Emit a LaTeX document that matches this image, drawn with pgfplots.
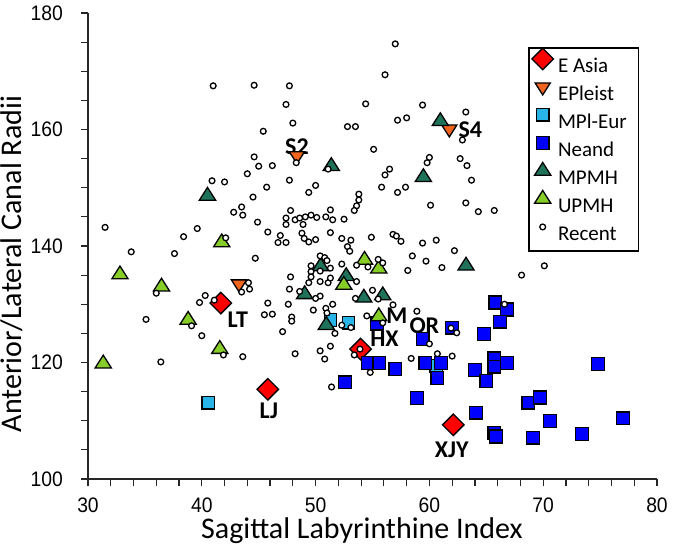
\documentclass[border=0pt]{standalone}
\usepackage{fontspec}
\setmainfont{Carlito}
\newfontfamily\tickfont[FakeStretch=0.92]{Liberation Sans}
\usepackage{pgfplots}
\pgfplotsset{compat=1.18}
\definecolor{easia}{RGB}{255,0,0}
\definecolor{epleist}{RGB}{240,100,30}
\definecolor{mpleur}{RGB}{40,180,230}
\definecolor{neand}{RGB}{0,0,255}
\definecolor{mpmh}{RGB}{30,115,90}
\definecolor{upmh}{RGB}{135,205,40}
\begin{document}
\begin{tikzpicture}
\useasboundingbox (-88bp,-67bp) rectangle (594bp,479bp);
\begin{axis}[
  at={(0,0)}, anchor=south west,
  scale only axis, width=569bp, height=466bp,
  xmin=30, xmax=80, ymin=100, ymax=180,
  axis lines=left,
  axis line style={-, line width=1.4bp, black!85},
  xtick={30,40,...,80}, ytick={100,120,...,180},
  minor x tick num=4, minor y tick num=3,
  tick align=outside, major tick length=7bp, minor tick length=7bp,
  every tick/.style={line width=1.2bp, black!85},
  /pgf/number format/assume math mode=true,
  ticklabel style={font=\tickfont\fontsize{21bp}{21bp}\selectfont, inner sep=0pt},
  xticklabel style={anchor=base, yshift=-26.5bp},
  yticklabel style={anchor=east, xshift=-18bp},
  xlabel={Sagittal Labyrinthine Index},
  ylabel={Anterior/Lateral Canal Radii},
  every axis x label/.style={at={(rel axis cs:0.4815,0)}, anchor=base, yshift=-59bp, font=\fontsize{30bp}{30bp}\selectfont},
  every axis y label/.style={at={(rel axis cs:0,0.461)}, xshift=-66bp, rotate=90, anchor=base, font=\fontsize{30bp}{30bp}\selectfont},
  clip=false,
  legend style={at={(rel axis cs:0.7733,0.927)}, anchor=north west, draw=black, line width=1.8bp, fill=white,
    font=\fontsize{21bp}{24bp}\selectfont, inner xsep=3.8bp, inner ysep=6bp, row sep=5bp, column sep=5.3bp,
    nodes={inner sep=0pt, text height=14bp, text depth=4bp}},
  legend cell align=left,
  legend image code/.code={\path[draw=none, fill=none] (-10bp,0bp) rectangle (10bp,14bp); \draw[#1, overlay] plot coordinates {(0bp,9bp)};},
]
% E Asia
\addplot[only marks, mark=square*, mark size=7.6bp, mark options={rotate=45, draw=black, fill=easia, line width=1.3bp}] coordinates {
(41.67,130.2) (45.8,115.4) (53.95,122.3) (62.1,109.3)
};
\addlegendentry{E Asia}
% EPleist
\addplot[only marks, mark=triangle*, mark size=8bp, mark options={rotate=180, xscale=1.1, draw=black, fill=epleist, line width=1.3bp}] coordinates {
(48.36,155.5) (61.75,160.1) (43.27,133.5)
};
\addlegendentry{EPleist}
% MPl-Eur
\addplot[only marks, mark=square*, mark size=6.2bp, mark options={draw=black, fill=mpleur, line width=1.3bp}] coordinates {
(40.55,113.1) (51.3,127.3) (52.9,126.8) (60.6,119.4)
};
\addlegendentry{MPl-Eur\hspace*{8bp}}
% Neand
\addplot[only marks, mark=square*, mark size=6.4bp, mark options={draw=black, fill=neand, line width=1.3bp}] coordinates {
(55.4,126.7) (52.6,116.6) (54.6,119.9) (55.6,119.9) (57.0,118.9) (59.65,119.9)
(61.0,119.9) (60.7,117.3) (58.9,113.9) (59.4,124.0) (62.0,126.0) (64.0,118.7)
(65.0,116.8) (65.7,120.7) (65.7,119.3) (66.8,119.9) (64.1,111.4) (65.7,107.9)
(65.85,107.3) (65.8,130.3) (66.8,129.1) (66.2,127.0) (64.8,124.9) (74.8,119.7)
(68.7,113.1) (69.7,114.0) (70.6,110.0) (69.1,107.1) (73.4,107.7) (77.0,110.4)
};
\addlegendentry{Neand}
% MPMH
\addplot[only marks, mark=triangle*, mark size=8.5bp, mark options={xscale=1.1, draw=black, fill=mpmh, line width=1.3bp}] coordinates {
(40.5,148.6) (51.38,153.7) (60.96,161.4) (59.47,151.8) (63.22,136.6) (50.44,136.5)
(52.69,134.8) (49.04,131.7) (54.24,131.1) (55.9,131.5) (50.94,126.4)
};
\addlegendentry{MPMH}
% UPMH
\addplot[only marks, mark=triangle*, mark size=8.5bp, mark options={xscale=1.1, draw=black, fill=upmh, line width=1.3bp}] coordinates {
(32.81,135.1) (36.46,133.0) (38.8,127.3) (41.58,122.3) (31.34,119.8) (41.75,140.6)
(54.3,137.6) (55.55,136.1) (52.48,133.3) (55.55,127.9)
};
\addlegendentry{UPMH}
% Recent
\addplot[only marks, mark=*, mark size=2.9bp, mark options={draw=black, fill=white, line width=1.3bp}] table {
x y
41.0 167.5
44.6 167.6
47.7 167.5
47.4 164.3
48.0 161.1
45.4 159.7
44.6 155.3
45.0 153.7
46.2 153.8
48.3 154.3
44.0 152.4
40.9 151.2
42.0 151.0
47.7 151.3
45.7 150.1
49.4 149.2
44.5 148.4
43.5 146.7
42.8 145.8
43.6 145.3
47.8 146.1
31.5 143.2
39.6 143.0
38.4 141.6
44.9 144.1
45.8 142.4
47.4 144.8
47.4 143.7
48.2 144.5
48.6 144.8
49.1 145.0
48.9 143.7
48.8 142.2
49.0 141.3
46.9 141.8
46.7 140.6
47.4 140.6
42.1 141.4
57.0 174.7
56.1 169.4
54.4 164.4
59.4 164.2
63.2 163.0
57.2 161.6
58.0 162.0
52.8 160.5
53.5 160.5
62.9 158.2
55.1 156.6
51.1 153.2
60.0 155.2
59.8 154.3
62.7 155.0
63.3 153.8
56.5 153.2
56.1 152.2
50.0 150.4
55.8 150.1
57.2 149.2
57.9 150.1
63.7 151.3
53.8 148.9
53.8 147.9
53.6 146.9
53.4 146.1
60.1 147.0
63.2 147.4
64.3 145.9
65.7 146.1
49.6 145.3
50.1 144.9
50.9 145.0
51.3 146.2
51.5 144.5
52.5 144.6
49.4 140.7
50.0 141.1
51.3 142.3
52.3 141.3
53.1 141.0
52.8 139.9
53.0 139.1
54.9 141.5
56.8 142.0
57.1 141.7
57.5 140.8
59.4 140.5
60.6 141.0
62.2 139.2
58.5 138.3
50.4 138.3
50.8 138.0
44.7 137.9
51.0 137.5
51.3 136.2
49.6 136.6
49.6 135.6
49.6 134.7
50.4 135.7
52.3 136.9
53.6 136.7
54.6 136.4
55.5 137.7
55.9 137.1
47.8 134.7
50.4 133.9
51.1 133.7
51.3 134.5
49.4 133.7
53.6 133.9
47.7 132.6
48.6 132.2
50.4 131.4
50.0 131.0
55.0 132.4
55.5 130.9
53.5 131.0
45.8 130.2
47.6 130.0
51.5 130.0
49.8 129.0
50.9 129.3
51.0 128.5
45.5 128.2
46.2 128.3
47.9 127.8
47.9 127.1
54.5 128.0
56.8 129.9
47.1 125.3
51.7 125.0
52.3 126.4
53.1 126.0
55.9 126.8
51.3 122.8
50.4 122.0
48.2 121.5
50.8 120.6
53.4 121.3
59.7 137.4
58.1 135.8
61.1 136.3
68.1 135.0
70.1 136.6
58.9 128.8
66.6 130.0
61.9 125.9
62.4 125.1
60.0 123.2
58.4 120.7
60.7 121.5
62.0 121.1
54.8 118.3
51.4 115.8
33.8 139.0
37.6 138.7
36.0 131.9
40.3 131.5
39.8 130.3
41.1 130.7
44.1 133.7
44.2 132.6
43.5 132.1
35.1 127.4
39.1 126.3
40.0 124.6
41.9 121.3
43.6 121.0
36.4 120.1
53.9 122.3
};
\addlegendentry{Recent}
% point labels
\begin{scope}[every node/.style={font=\bfseries\fontsize{24bp}{24bp}\selectfont, inner sep=0pt}]
\node at (axis cs:43.16,127.3) {LT};
\node at (axis cs:45.9,111.7) {LJ};
\node at (axis cs:56.05,124.0) {HX};
\node at (axis cs:61.96,105.0) {XJY};
\node at (axis cs:48.36,157.0) {S2};
\node at (axis cs:63.6,159.9) {S4};
\node at (axis cs:57.13,128.0) {M};
\node at (axis cs:59.56,126.4) {OR};
\end{scope}
\end{axis}
\end{tikzpicture}
\end{document}
